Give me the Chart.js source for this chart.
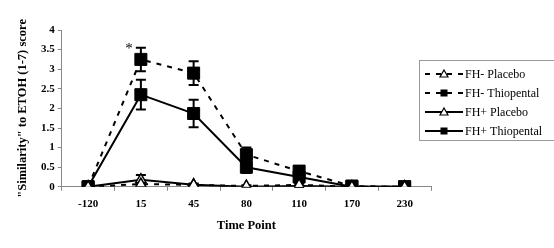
<!DOCTYPE html>
<html>
<head>
<meta charset="utf-8">
<script src="https://cdn.jsdelivr.net/npm/chart.js@4.4.1/dist/chart.umd.min.js"></script>
<style>
  html, body { margin: 0; padding: 0; background: #fff; }
  #wrap { width: 554px; height: 248px; }
</style>
</head>
<body>
<div id="wrap"><canvas id="chart" width="554" height="248"></canvas></div>
<script>
// data
const timePoints = ["-120", "15", "45", "80", "110", "170", "230"];

const fhMinusPlacebo = [0, 0.07, 0.05, 0.02, 0.05, 0, 0];
const fhMinusPlaceboErr = [0, 0.05, 0.03, 0.02, 0.04, 0, 0];
const fhMinusThio = [0, 3.25, 2.9, 0.82, 0.4, 0.02, 0];
const fhMinusThioErr = [0, 0.3, 0.3, 0.18, 0.1, 0, 0];
const fhPlusPlacebo = [0, 0.18, 0.05, 0, 0.02, 0, 0];
const fhPlusPlaceboErr = [0, 0.12, 0.03, 0, 0.02, 0, 0];
const fhPlusThio = [0, 2.35, 1.87, 0.5, 0.25, 0, 0];
const fhPlusThioErr = [0, 0.38, 0.35, 0.15, 0.1, 0, 0];

const legendLabels = ["FH- Placebo", "FH- Thiopental", "FH+ Placebo", "FH+ Thiopental"];
const starAt = { index: 1, value: 3.62, text: "*" };

const serif = "'Liberation Serif', 'Times New Roman', serif";
const DASH = [5, 6];

function series(label, data, err, dashed, style) {
  const triangle = style === "triangle";
  return {
    label: label,
    data: data,
    err: err,
    borderColor: "#000",
    borderWidth: 2,
    borderDash: dashed ? DASH : [],
    pointStyle: style,
    pointRadius: triangle ? 6 : 8.5,
    pointBackgroundColor: triangle ? "#fff" : "#000",
    pointBorderColor: "#000",
    pointBorderWidth: triangle ? 1.5 : 1,
    tension: 0,
    fill: false,
  };
}

// error bars, drawn under the markers
const errorBars = {
  id: "errorBars",
  beforeDatasetsDraw(chart) {
    const ctx = chart.ctx;
    const y = chart.scales.y;
    ctx.save();
    ctx.strokeStyle = "#000";
    ctx.lineWidth = 2;
    chart.data.datasets.forEach((ds, i) => {
      const meta = chart.getDatasetMeta(i);
      meta.data.forEach((pt, j) => {
        const e = ds.err[j];
        if (!e) return;
        const top = y.getPixelForValue(ds.data[j] + e);
        const bot = y.getPixelForValue(ds.data[j] - e);
        ctx.beginPath();
        ctx.moveTo(pt.x, top); ctx.lineTo(pt.x, bot);
        ctx.moveTo(pt.x - 5, top); ctx.lineTo(pt.x + 5, top);
        ctx.moveTo(pt.x - 5, bot); ctx.lineTo(pt.x + 5, bot);
        ctx.stroke();
      });
    });
    ctx.restore();
  },
};

// star + legend box
const extras = {
  id: "extras",
  afterDraw(chart) {
    const ctx = chart.ctx;
    const x = chart.scales.x;
    const y = chart.scales.y;
    ctx.save();
    ctx.fillStyle = "#000";
    ctx.font = "15px " + serif;
    ctx.textAlign = "center";
    ctx.textBaseline = "middle";
    ctx.fillText(starAt.text, x.getPixelForValue(starAt.index) - 12, y.getPixelForValue(starAt.value) + 4);

    // legend
    const bx = 419, by = 60, bw = 140, bh = 80;
    ctx.strokeStyle = "#999";
    ctx.lineWidth = 1;
    ctx.strokeRect(bx + 0.5, by + 0.5, bw, bh);
    ctx.font = "12px " + serif;
    ctx.textAlign = "left";
    chart.data.datasets.forEach((ds, i) => {
      const ry = by + 14 + i * 19;
      ctx.strokeStyle = "#000";
      ctx.lineWidth = 2;
      ctx.setLineDash(ds.borderDash);
      ctx.beginPath();
      ctx.moveTo(bx + 6, ry);
      ctx.lineTo(bx + 44, ry);
      ctx.stroke();
      ctx.setLineDash([]);
      const mx = bx + 25;
      if (ds.pointStyle === "triangle") {
        ctx.fillStyle = "#fff";
        ctx.lineWidth = 1.2;
        ctx.beginPath();
        ctx.moveTo(mx, ry - 4);
        ctx.lineTo(mx + 4, ry + 3);
        ctx.lineTo(mx - 4, ry + 3);
        ctx.closePath();
        ctx.fill();
        ctx.stroke();
      } else {
        ctx.fillStyle = "#000";
        ctx.fillRect(mx - 3.5, ry - 3.5, 7, 7);
      }
      ctx.fillStyle = "#000";
      ctx.fillText(ds.label, bx + 46, ry + 1);
    });
    ctx.restore();
  },
};

new Chart(document.getElementById("chart"), {
  type: "line",
  data: {
    labels: timePoints,
    datasets: [
      series(legendLabels[0], fhMinusPlacebo, fhMinusPlaceboErr, true, "triangle"),
      series(legendLabels[1], fhMinusThio, fhMinusThioErr, true, "rect"),
      series(legendLabels[2], fhPlusPlacebo, fhPlusPlaceboErr, false, "triangle"),
      series(legendLabels[3], fhPlusThio, fhPlusThioErr, false, "rect"),
    ],
  },
  options: {
    responsive: false,
    animation: false,
    events: [],
    layout: { padding: { top: 30, right: 123, bottom: 11, left: 11 } },
    plugins: { legend: { display: false }, tooltip: { enabled: false } },
    scales: {
      x: {
        offset: true,
        grid: { offset: true, drawOnChartArea: false, color: "#888", tickLength: 4 },
        border: { color: "#888" },
        ticks: { color: "#000", font: { family: serif, size: 11, weight: "bold" }, padding: 7, maxRotation: 0 },
        title: { display: true, text: "Time Point", color: "#000", font: { family: serif, size: 12.5, weight: "bold" }, padding: { top: 0 } },
      },
      y: {
        min: 0,
        max: 4,
        ticks: { stepSize: 0.5, color: "#000", font: { family: serif, size: 11, weight: "bold" }, padding: 3, callback: (v) => String(v) },
        grid: { drawOnChartArea: false, color: "#888", tickLength: 4 },
        border: { color: "#888" },
        title: { display: true, text: "\"Similarity\" to ETOH (1-7) score", color: "#000", font: { family: serif, size: 12.5, weight: "bold" }, padding: { bottom: 8 } },
      },
    },
  },
  plugins: [errorBars, extras],
});
</script>
</body>
</html>
